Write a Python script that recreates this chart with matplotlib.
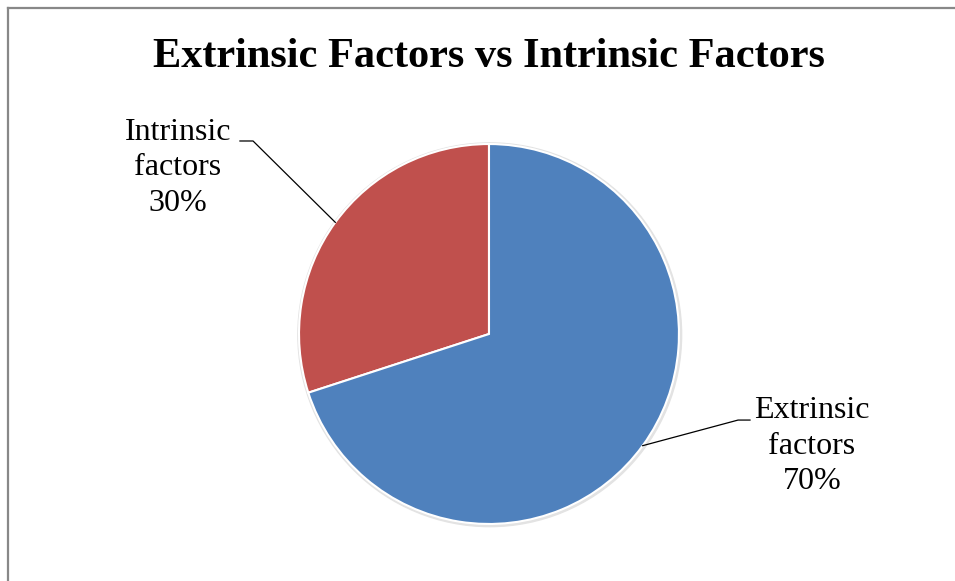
import numpy as np
import matplotlib.pyplot as plt
from matplotlib.lines import Line2D

labels = ['Intrinsic\nfactors\n30%', 'Extrinsic\nfactors\n70%']
shares = [30, 70]
colors = ['#C0504D', '#4F81BD']

plt.rcParams['font.family'] = ['Liberation Serif', 'DejaVu Serif']


def draw_plot():
    fig = plt.figure(figsize=(9.55, 5.81), dpi=100)
    ax = fig.add_axes([0, 0, 1, 1])

    # faint outline so the pie reads as slightly raised
    ax.add_patch(plt.Circle((0.004, -0.004), 1.01, color='#e3e3e3', zorder=0))
    wedges, _ = ax.pie(shares, colors=colors, startangle=90, counterclock=True,
                       radius=1.0, wedgeprops=dict(edgecolor='white', linewidth=1.5))
    for w in wedges:
        w.set_zorder(2)

    ax.set_xlim(-2.574, 2.453)
    ax.set_ylim(-1.300, 1.758)
    ax.axis('off')

    # labels with leader lines to the middle of each wedge
    text_pos = [(-1.637, 0.874), (1.70, -0.59)]
    elbows = [[(-1.311, 1.016), (-1.242, 1.016)], [(1.374, -0.453), (1.311, -0.453)]]
    for w, lab, (tx, ty), elb in zip(wedges, labels, text_pos, elbows):
        ang = np.deg2rad((w.theta1 + w.theta2) / 2)
        edge = (np.cos(ang), np.sin(ang))
        xs = [elb[0][0], elb[1][0], edge[0]]
        ys = [elb[0][1], elb[1][1], edge[1]]
        ax.plot(xs, ys, color='black', lw=0.9, zorder=3)
        ax.text(tx, ty, lab, ha='center', va='center', fontsize=23,
                linespacing=1.3, color='black')

    fig.text(0.512, 0.902, 'Extrinsic Factors vs Intrinsic Factors',
             ha='center', va='center', fontsize=30.5, fontweight='bold')

    # frame on top and left edges
    top = 1 - 8 / 581
    left = 8 / 955
    fig.add_artist(Line2D([left, 1], [top, top], color='#888888', lw=1.6))
    fig.add_artist(Line2D([left, left], [0, top], color='#888888', lw=1.6))

    fig.savefig('out.png', dpi=100)


draw_plot()
